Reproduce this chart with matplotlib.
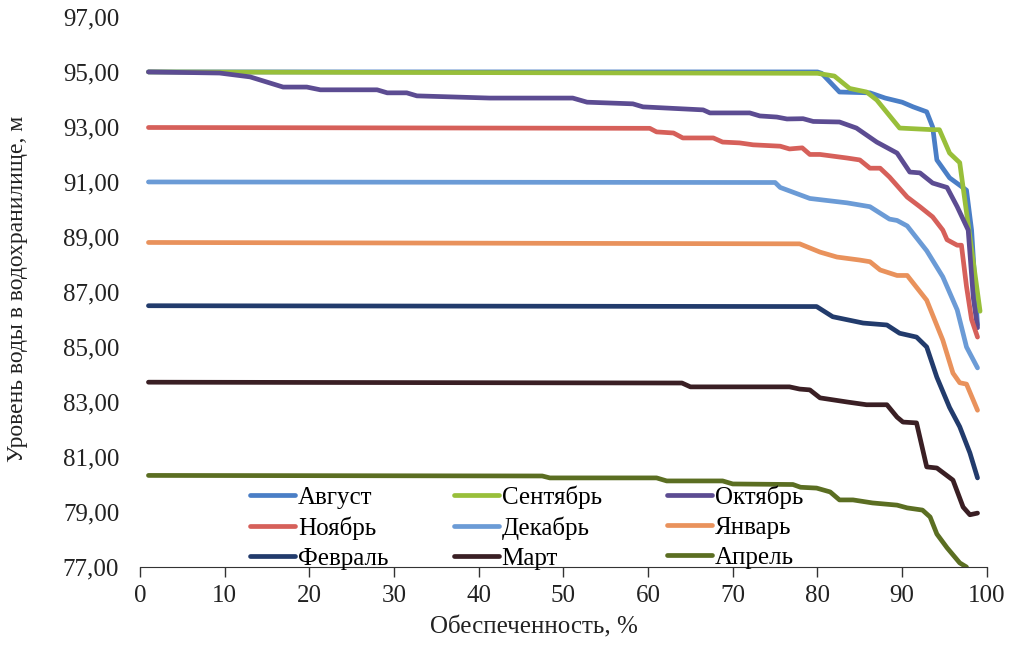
import matplotlib
matplotlib.use("Agg")
import numpy as np
import matplotlib.pyplot as plt
from matplotlib.ticker import FuncFormatter, MultipleLocator, FixedLocator

plt.rcParams['font.family'] = ['Liberation Serif', 'DejaVu Serif']

# Кривые обеспеченности уровня воды по месяцам (x - обеспеченность, %; y - уровень, м)
aug_x = [1, 80, 80.5, 82.6, 86.2, 88, 90, 91.3, 92.9, 93.6, 94.1, 95.6, 97.6, 98.2, 98.9]
aug_y = [95.0, 95.0, 94.95, 94.27, 94.24, 94.05, 93.9, 93.73, 93.55, 93.0, 91.8, 91.15, 90.7, 89.25, 85.8]

sep_x = [1, 80, 82, 82.6, 83.8, 85.8, 87, 89.7, 93.6, 94.4, 95.6, 96.8, 97.4, 99.2]
sep_y = [95.0, 94.95, 94.85, 94.7, 94.4, 94.27, 93.98, 92.96, 92.9, 92.9, 92.05, 91.7, 90.35, 86.3]

oct_x = [1, 9.4, 13, 16.9, 19.7, 21.3, 28, 29.2, 31.5, 32.7, 41.3, 51.1, 52.8, 58.2, 59.4, 66.5,
         67.3, 72, 73.2, 75.2, 76.4, 78.3, 79.5, 82.6, 84.6, 87, 89.4, 90.9, 92.1, 93.6, 95.3,
         96.5, 97.8, 98.4, 98.9]
oct_y = [95.0, 94.96, 94.82, 94.45, 94.45, 94.35, 94.35, 94.24, 94.24, 94.13, 94.05, 94.05, 93.9,
         93.84, 93.73, 93.62, 93.51, 93.51, 93.4, 93.36, 93.29, 93.3, 93.2, 93.18, 92.96, 92.45,
         92.05, 91.36, 91.33, 90.96, 90.8, 90.1, 89.25, 86.8, 85.7]

nov_x = [1, 60.2, 61, 63, 64.1, 67.7, 68.8, 70.8, 72.4, 75.6, 76.7, 78.2, 79.1, 80.3, 83.5, 85,
         86.2, 87.4, 88.5, 90.6, 92.1, 93.6, 94.8, 95.3, 96.5, 97, 97.6, 98.2, 98.9]
nov_y = [92.98, 92.95, 92.82, 92.78, 92.6, 92.6, 92.45, 92.42, 92.35, 92.3, 92.2, 92.24, 92.0, 92.0,
         91.87, 91.8, 91.5, 91.5, 91.18, 90.45, 90.1, 89.73, 89.25, 88.9, 88.7, 88.7, 87.2, 86.0, 85.36]

dec_x = [1, 75, 75.6, 79.1, 83.5, 86.2, 88.5, 89.4, 90.6, 92.9, 94.8, 96.5, 97.6, 98.9]
dec_y = [91.0, 90.98, 90.8, 90.4, 90.24, 90.1, 89.65, 89.6, 89.4, 88.5, 87.55, 86.35, 85.0, 84.24]

jan_x = [1, 77.9, 80.3, 82.3, 85, 86.2, 87.4, 89.4, 90.6, 92.9, 94.8, 96, 96.8, 97.6, 98.9]
jan_y = [88.8, 88.75, 88.45, 88.27, 88.16, 88.1, 87.8, 87.6, 87.6, 86.7, 85.25, 84.05, 83.7, 83.65, 82.7]

feb_x = [1, 79.9, 81.8, 85.4, 88.2, 89.7, 91.7, 92.9, 94.1, 95.6, 96.8, 98, 98.9]
feb_y = [86.5, 86.47, 86.1, 85.87, 85.8, 85.5, 85.36, 85.0, 83.9, 82.8, 82.1, 81.15, 80.24]

mar_x = [1, 64, 65, 76.7, 77.9, 79.1, 80.3, 83.5, 85.8, 88.2, 89.4, 90.1, 91.7, 92.9, 94.1, 96,
         97.2, 98, 98.9]
mar_y = [83.72, 83.69, 83.55, 83.55, 83.47, 83.44, 83.15, 83.0, 82.9, 82.9, 82.45, 82.27, 82.24,
         80.64, 80.6, 80.16, 79.18, 78.9, 78.96]

apr_x = [1, 47.5, 48.4, 61, 62.2, 68.8, 70, 77.1, 78, 79.9, 81.5, 82.6, 84.2, 86.5, 89.4, 90.6,
         92.4, 93.3, 94.1, 95.3, 96.8, 97.6]
apr_y = [80.33, 80.31, 80.24, 80.24, 80.13, 80.13, 80.02, 80.0, 79.9, 79.87, 79.73, 79.44, 79.44,
         79.33, 79.25, 79.15, 79.07, 78.82, 78.2, 77.7, 77.15, 77.0]

series = [
    ("Август", aug_x, aug_y, "#4a7ec6"),
    ("Сентябрь", sep_x, sep_y, "#98bf3a"),
    ("Октябрь", oct_x, oct_y, "#5c4c92"),
    ("Ноябрь", nov_x, nov_y, "#d6605a"),
    ("Декабрь", dec_x, dec_y, "#6b9bd6"),
    ("Январь", jan_x, jan_y, "#e9925c"),
    ("Февраль", feb_x, feb_y, "#223b6c"),
    ("Март", mar_x, mar_y, "#3a1f24"),
    ("Апрель", apr_x, apr_y, "#5b6e22"),
]

fig = plt.figure(figsize=(10.24, 6.51), dpi=100)
ax = fig.add_axes([0.1367, 0.129, 0.827, 0.845])

lines = []
for name, x, y, c in series:
    ln, = ax.plot(x, y, color=c, lw=3.4, label=name, solid_capstyle='round',
                  solid_joinstyle='round')
    lines.append(ln)

ax.set_xlim(0, 100)
ax.set_ylim(77, 97)
ax.xaxis.set_major_locator(MultipleLocator(10))
ax.yaxis.set_major_locator(FixedLocator(np.arange(77, 98, 2)))
ax.yaxis.set_major_formatter(FuncFormatter(lambda v, p: f"{v:.2f}".replace('.', ',')))

for s in ['top', 'right', 'left']:
    ax.spines[s].set_visible(False)
ax.spines['bottom'].set_color('#333333')
ax.tick_params(axis='x', direction='out', length=7, width=1, colors='#333333',
               labelcolor='#222222', labelsize=18, pad=6)
ax.tick_params(axis='y', length=0, labelsize=18, labelcolor='#222222', pad=15)

ax.set_xlabel("Обеспеченность, %", fontsize=18, color='#222222')
ax.xaxis.set_label_coords(0.465, -0.09)
ax.set_ylabel("Уровень воды в водохранилище, м", fontsize=17, color='#222222')
ax.yaxis.set_label_coords(-0.132, 0.505)

# легенда заполняется по строкам
order = [0, 3, 6, 1, 4, 7, 2, 5, 8]
ax.legend([lines[i] for i in order], [series[i][0] for i in order],
          loc='upper left', bbox_to_anchor=(0.13, 0.148), ncol=3, frameon=False,
          fontsize=18, handlelength=1.8, handletextpad=0.12, columnspacing=2.6,
          labelspacing=0.3, borderaxespad=0, borderpad=0)

fig.savefig("out.png", dpi=100, facecolor='white')
